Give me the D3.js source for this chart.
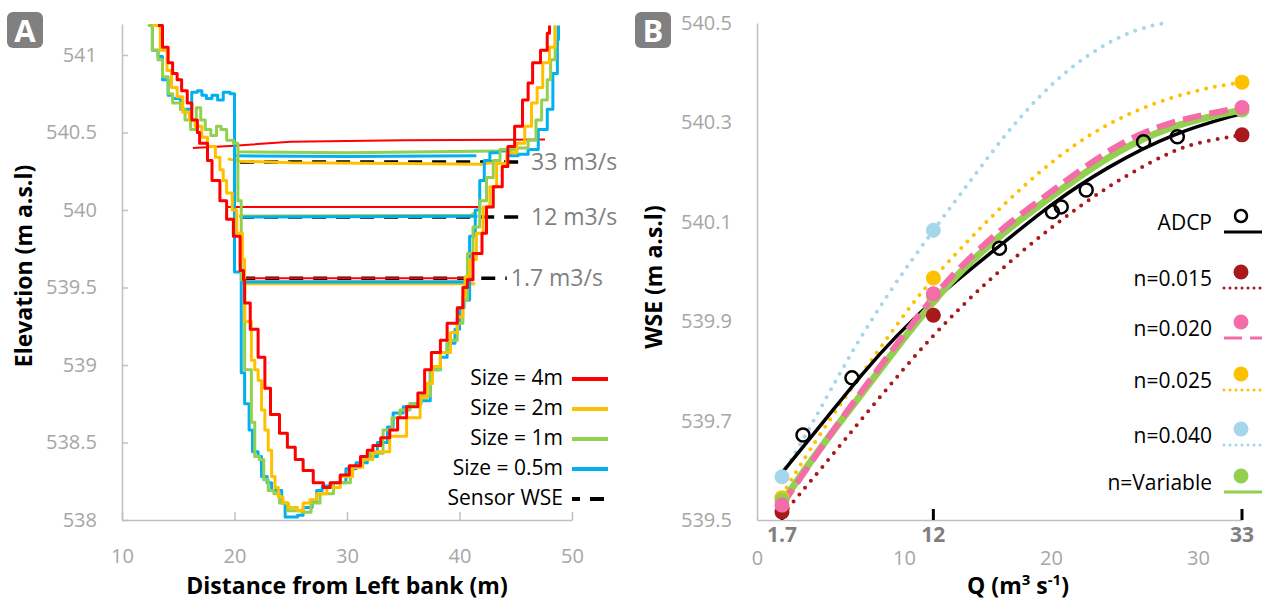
<!DOCTYPE html>
<html>
<head>
<meta charset="utf-8">
<script src="https://cdn.jsdelivr.net/npm/d3@7"></script>
<style>
  html, body { margin: 0; padding: 0; background: #fff; }
  svg { display: block; font-family: "Open Sans", "Noto Sans", sans-serif; }
</style>
</head>
<body>
<svg id="chart" width="1262" height="600"></svg>
<script>
// ---------- Panel A: channel cross-section by DEM cell size ----------
// [distance from left bank (m), elevation (m a.s.l)]
const profile4m = [
  [13.2,541.19],[13.6,541.05],[14.1,540.95],[14.5,540.88],[14.9,540.84],[15.3,540.77],[15.8,540.69],
  [16.2,540.58],[16.7,540.50],[16.9,540.43],[17.6,540.32],[18.0,540.19],[18.7,540.06],[19.3,539.94],
  [19.9,539.83],[20.5,539.61],[20.8,539.55],[20.9,539.40],[21.4,539.23],[22.1,539.05],[22.7,538.85],
  [23.2,538.68],[24.0,538.56],[24.7,538.47],[25.4,538.39],[26.1,538.32],[27.0,538.24],[27.9,538.21],
  [28.5,538.24],[29.4,538.29],[30.2,538.35],[31.2,538.41],[31.8,538.45],[32.3,538.48],[33.0,538.53],
  [33.8,538.58],[34.5,538.66],[35.3,538.73],[36.3,538.82],[36.9,538.97],[37.5,539.08],[38.3,539.16],
  [38.9,539.27],[39.8,539.37],[40.3,539.50],[40.7,539.55],[41.2,539.72],[42.0,539.85],[42.4,540.02],
  [43.0,540.15],[43.8,540.28],[44.3,540.41],[44.9,540.54],[45.6,540.71],[46.1,540.82],[46.5,540.95],
  [47.2,541.03],[47.8,541.14],[48.0,541.19]
];
const profile2m = [
  [12.7,541.19],[13.4,541.03],[14.0,540.90],[14.4,540.79],[14.9,540.73],[15.4,540.63],[16.0,540.58],
  [16.5,540.54],[17.1,540.47],[17.6,540.41],[18.3,540.34],[18.7,540.26],[19.0,540.19],[19.3,540.11],
  [19.8,540.00],[20.2,539.85],[20.7,539.68],[20.9,539.28],[21.5,539.03],[21.8,538.97],[22.1,538.90],
  [22.4,538.71],[22.7,538.58],[23.0,538.45],[23.3,538.28],[23.6,538.21],[23.9,538.15],[24.3,538.11],
  [24.8,538.08],[25.6,538.06],[26.1,538.11],[26.7,538.13],[27.3,538.17],[28.2,538.21],[29.4,538.28],
  [30.5,538.34],[31.4,538.39],[32.3,538.44],[33.8,538.54],[35.3,538.66],[36.5,538.79],[37.1,538.88],
  [37.6,538.99],[38.3,539.08],[39.2,539.21],[39.8,539.31],[40.3,539.44],[40.5,539.57],[40.9,539.68],
  [41.5,539.85],[42.1,540.02],[42.7,540.15],[43.3,540.30],[44.2,540.37],[45.1,540.43],[45.8,540.54],
  [46.4,540.69],[46.9,540.79],[47.4,540.95],[48.0,541.05],[48.5,541.19]
];
const profile1m = [
  [12.3,541.19],[12.7,541.03],[13.2,540.97],[13.6,540.86],[14.1,540.75],[14.5,540.69],[15.2,540.65],
  [15.6,540.58],[16.1,540.52],[16.6,540.66],[17.0,540.58],[17.4,540.52],[17.9,540.48],[18.4,540.54],
  [18.8,540.52],[19.3,540.45],[19.9,540.43],[20.3,540.06],[20.6,539.55],[20.9,538.97],[21.5,538.63],
  [21.8,538.41],[22.2,538.39],[22.6,538.26],[23.0,538.19],[23.5,538.17],[24.0,538.11],[24.7,538.06],
  [26.0,538.05],[26.8,538.11],[27.6,538.17],[28.8,538.24],[30.3,538.34],[31.2,538.39],[32.0,538.43],
  [33.2,538.58],[34.0,538.66],[34.7,538.71],[35.6,538.75],[36.6,538.80],[37.4,538.97],[38.3,539.08],
  [38.9,539.16],[39.8,539.27],[40.3,539.42],[40.7,539.72],[41.2,539.89],[41.8,540.06],[42.4,540.21],
  [43.0,540.32],[43.6,540.39],[45.1,540.40],[46.1,540.45],[46.8,540.58],[47.3,540.71],[47.8,540.84],
  [48.1,540.97],[48.5,541.19]
];
const profile05m = [
  [12.4,541.19],[12.7,541.03],[13.2,540.99],[13.6,540.84],[14.1,540.74],[14.5,540.72],[15.2,540.65],
  [16.0,540.65],[16.2,540.76],[16.7,540.77],[17.1,540.74],[17.5,540.72],[18.0,540.74],[18.5,540.71],
  [19.0,540.76],[19.6,540.75],[20.0,539.60],[20.6,538.95],[20.9,538.75],[21.3,538.58],[21.6,538.44],
  [22.1,538.41],[22.4,538.28],[22.9,538.24],[23.3,538.19],[24.2,538.11],[24.5,538.02],[25.6,538.03],
  [26.1,538.08],[26.9,538.12],[27.3,538.19],[27.8,538.22],[28.7,538.24],[29.9,538.33],[30.8,538.37],
  [31.8,538.41],[32.7,538.50],[33.6,538.60],[34.1,538.69],[35.0,538.73],[35.6,538.75],[36.5,538.77],
  [37.4,538.97],[38.3,539.05],[38.9,539.14],[39.6,539.23],[40.0,539.37],[40.4,539.42],[40.9,539.83],
  [41.4,540.00],[41.8,540.19],[42.2,540.32],[42.7,540.37],[43.5,540.38],[44.5,540.35],[45.2,540.36],
  [46.1,540.39],[47.0,540.52],[47.8,540.65],[48.3,540.88],[48.7,541.10],[48.8,541.19]
];

// modelled water surface for each flow (33, 12, 1.7 m3/s)
const wse4m = [
  [[16.3,540.40],[20,540.415],[25,540.44],[35,540.45],[47.6,540.455]],
  [[19.3,540.02],[41.9,540.02]],
  [[20.6,539.56],[40.6,539.56]]
];
const wse2m = [
  [[19.4,540.33],[20.5,540.315],[25,540.305],[35,540.30],[42,540.295],[43.2,540.31]],
  [[20.4,539.96],[41.0,539.965],[41.4,539.985]],
  [[20.8,539.525],[41.4,539.525]]
];
const wse1m = [
  [[20.4,540.375],[30,540.37],[43.4,540.38]],
  [[20.6,539.96],[41.5,539.965]],
  [[20.5,539.537],[40.5,539.537]]
];
const wse05m = [
  [[20.0,540.35],[30,540.345],[41.5,540.35]],
  [[20.5,539.955],[41.6,539.96]],
  [[20.6,539.535],[40.6,539.535]]
];
const sensorWSE = [
  [[20.5,540.31],[46.0,540.31]],
  [[20.5,539.955],[46.0,539.955]],
  [[20.6,539.56],[44.2,539.56]]
];
const flowLabels = ["33 m3/s", "12 m3/s", "1.7 m3/s"];
const sizeLabels = ["Size = 4m", "Size = 2m", "Size = 1m", "Size = 0.5m", "Sensor WSE"];
const elevTicks = [538, 538.5, 539, 539.5, 540, 540.5, 541];
const distTicks = [10, 20, 30, 40, 50];

// ---------- Panel B: stage-discharge ----------
const adcpQ   = [3.13, 6.46, 16.5, 20.1, 20.7, 22.4, 26.3, 28.6];
const adcpWSE = [539.671, 539.786, 540.047, 540.120, 540.130, 540.164, 540.261, 540.271];
const adcpFit = [[1.7,539.595],[5,539.715],[7.2,539.796],[9.5,539.872],[12.5,539.957],[17,540.063],
                 [20.1,540.138],[23.8,540.21],[28.3,540.279],[33,540.318]];
const fit015 = [[1.7,539.51],[4,539.59],[8,539.735],[12,539.875],[16,539.99],[20,540.09],
                [24,540.175],[28,540.24],[30,540.26],[33,540.275]];
const fit020 = [[1.7,539.53],[4,539.63],[6.3,539.727],[9.7,539.862],[12,539.95],[13.8,540.009],
                [16.5,540.083],[19.25,540.144],[22,540.204],[24.7,540.259],[27.9,540.30],[31.3,540.321],[33,540.33]];
const fit025 = [[1.7,539.55],[4.1,539.667],[8.4,539.848],[10.6,539.937],[12.45,540.003],[17,540.144],
                [21.5,540.259],[26,540.331],[30.6,540.371],[33,540.38]];
const fit040 = [[1.7,539.59],[3.8,539.695],[6.1,539.822],[9.05,539.963],[12,540.083],[14.7,540.19],
                [17,540.28],[19.25,540.355],[21.5,540.415],[23.8,540.46],[26,540.49],[28.1,540.502]];
const fitVar = [[1.7,539.535],[4,539.633],[6.3,539.722],[9.7,539.855],[12,539.94],[13.8,540.0],
                [16.5,540.072],[19.25,540.135],[22,540.193],[24.7,540.245],[27.9,540.29],[31.3,540.315],[33,540.325]];
const simQ   = [1.7, 12, 33];
const sim015 = [539.516, 539.912, 540.275];
const sim020 = [539.53, 539.955, 540.33];
const sim025 = [539.545, 539.987, 540.381];
const sim040 = [539.587, 540.083];
const simVar = [539.54, 539.95, 540.325];
const nLabels = ["ADCP", "n=0.015", "n=0.020", "n=0.025", "n=0.040", "n=Variable"];
const wseTicks = [539.5, 539.7, 539.9, 540.1, 540.3, 540.5];
const qTicks = [0, 10, 20, 30];
const qMarks = [1.7, 12, 33];

// ---------- drawing ----------
const svg = d3.select("#chart");
const AXIS = "#bfbfbf", TICKTXT = "#a6a6a6";
const C = { red: "#ff0000", yellow: "#ffc000", green: "#92d050", blue: "#00b0f0",
            dred: "#a8191c", pink: "#f46ca8", lblue: "#a5d6ea" };

function styleAxis(g) {
  g.attr("font-family", null).attr("font-size", null);
  g.select(".domain").attr("stroke", AXIS).attr("stroke-width", 1.5);
  g.selectAll(".tick line").attr("stroke", AXIS).attr("stroke-width", 1.5);
  g.selectAll(".tick text").attr("fill", TICKTXT).attr("font-size", 20);
}

function badge(x, y, letter) {
  svg.append("rect").attr("x", x).attr("y", y).attr("width", 36).attr("height", 36)
    .attr("rx", 6).attr("fill", "#808080");
  svg.append("text").attr("x", x + 18).attr("y", y + 30).attr("text-anchor", "middle")
    .attr("font-size", 31).attr("font-weight", 700).attr("fill", "#fff").text(letter);
}

// ----- Panel A -----
const xA = d3.scaleLinear().domain([10, 50]).range([122, 572]);
const yA = d3.scaleLinear().domain([538, 541.2]).range([520, 24]);

svg.append("g").attr("transform", "translate(0,520)")
  .call(d3.axisBottom(xA).tickValues(distTicks).tickSizeInner(-8).tickSizeOuter(0)
        .tickPadding(29).tickFormat(d3.format("d")))
  .call(styleAxis);
svg.append("g").attr("transform", "translate(122,0)")
  .call(d3.axisLeft(yA).tickValues(elevTicks).tickSizeInner(-6).tickSizeOuter(0)
        .tickPadding(25).tickFormat(d => String(d)))
  .call(styleAxis);

const lineA = d3.line().x(d => xA(d[0])).y(d => yA(d[1]));
const stepA = d3.line().x(d => xA(d[0])).y(d => yA(d[1])).curve(d3.curveStepAfter);

// sensor water levels (dashed) under the modelled surfaces
sensorWSE.forEach(s => {
  svg.append("path").attr("d", lineA(s)).attr("fill", "none").attr("stroke", "#000")
    .attr("stroke-width", 3.5).attr("stroke-dasharray", "14,10");
});
const wseSets = [
  { data: wse4m, color: C.red, w: 2 },
  { data: wse2m, color: C.yellow, w: 3 },
  { data: wse1m, color: C.green, w: 3 },
  { data: wse05m, color: C.blue, w: 3 }
];
wseSets.forEach(set => set.data.forEach(seg => {
  svg.append("path").attr("d", lineA(seg)).attr("fill", "none").attr("stroke", set.color)
    .attr("stroke-width", set.w);
}));
flowLabels.forEach((lab, i) => {
  const end = sensorWSE[i][sensorWSE[i].length - 1];
  svg.append("text").attr("x", xA(end[0]) + 4).attr("y", yA(end[1]) + 8)
    .attr("font-size", 23).attr("fill", "#7f7f7f").text(lab);
});

const profiles = [
  { data: profile05m, color: C.blue },
  { data: profile1m, color: C.green },
  { data: profile2m, color: C.yellow },
  { data: profile4m, color: C.red }
];
profiles.forEach(p => {
  svg.append("path").attr("d", stepA(p.data)).attr("fill", "none").attr("stroke", p.color)
    .attr("stroke-width", 3).attr("stroke-linejoin", "round");
});

// legend A
const legA = [C.red, C.yellow, C.green, C.blue, "#000"];
sizeLabels.forEach((lab, i) => {
  const y = 377 + i * 30;
  svg.append("text").attr("x", 563).attr("y", y + 8).attr("text-anchor", "end")
    .attr("font-size", 21).attr("fill", "#000").text(lab);
  const ln = svg.append("line").attr("x1", 572).attr("x2", 608).attr("y1", y + 2).attr("y2", y + 2)
    .attr("stroke", legA[i]).attr("stroke-width", 4);
  if (i === 4) ln.attr("stroke-dasharray", "14,10").attr("stroke-dashoffset", 6);
});

svg.append("text").attr("x", 347).attr("y", 594).attr("text-anchor", "middle")
  .attr("font-size", 23).attr("font-weight", 700).attr("fill", "#000")
  .text("Distance from Left bank (m)");
svg.append("text").attr("transform", "translate(32,266) rotate(-90)").attr("text-anchor", "middle")
  .attr("font-size", 23).attr("font-weight", 700).attr("fill", "#000")
  .text("Elevation (m a.s.l)");
badge(7, 12, "A");

// ----- Panel B -----
const xB = d3.scaleLinear().domain([0, 33]).range([757, 1242]);
const yB = d3.scaleLinear().domain([539.5, 540.5]).range([520, 23]);

svg.append("g").attr("transform", "translate(0,520)")
  .call(d3.axisBottom(xB).tickValues(qTicks).tickSize(0).tickPadding(31).tickFormat(d3.format("d")))
  .call(styleAxis);
svg.append("g").attr("transform", "translate(757,0)")
  .call(d3.axisLeft(yB).tickValues(wseTicks).tickSize(0).tickPadding(25).tickFormat(d3.format(".1f")))
  .call(styleAxis);

qMarks.forEach(q => {
  svg.append("line").attr("x1", xB(q)).attr("x2", xB(q)).attr("y1", 509).attr("y2", 520)
    .attr("stroke", "#000").attr("stroke-width", 3);
  svg.append("text").attr("x", xB(q)).attr("y", 542).attr("text-anchor", "middle")
    .attr("font-size", 21).attr("font-weight", 700).attr("fill", "#7f7f7f").text(String(q));
});

const curveB = d3.line().x(d => xB(d[0])).y(d => yB(d[1])).curve(d3.curveBasis);
const dotted = (sel, c) => sel.attr("stroke", c).attr("stroke-width", 4)
  .attr("stroke-linecap", "round").attr("stroke-dasharray", "0,9");

dotted(svg.append("path").attr("d", curveB(fit040)).attr("fill", "none"), C.lblue);
dotted(svg.append("path").attr("d", curveB(fit025)).attr("fill", "none"), C.yellow);
dotted(svg.append("path").attr("d", curveB(fit015)).attr("fill", "none"), C.dred);
svg.append("path").attr("d", curveB(adcpFit)).attr("fill", "none")
  .attr("stroke", "#000").attr("stroke-width", 3.5);
svg.append("path").attr("d", curveB(fitVar)).attr("fill", "none")
  .attr("stroke", C.green).attr("stroke-width", 7);
svg.append("path").attr("d", curveB(fit020)).attr("fill", "none")
  .attr("stroke", C.pink).attr("stroke-width", 6).attr("stroke-dasharray", "19,8");

svg.selectAll(null).data(adcpQ).enter().append("circle")
  .attr("cx", d => xB(d)).attr("cy", (d, i) => yB(adcpWSE[i])).attr("r", 6.5)
  .attr("fill", "none").attr("stroke", "#000").attr("stroke-width", 2.5);

const simSets = [
  { v: sim040, c: C.lblue }, { v: sim025, c: C.yellow }, { v: sim015, c: C.dred },
  { v: simVar, c: C.green }, { v: sim020, c: C.pink }
];
simSets.forEach(s => {
  svg.selectAll(null).data(s.v).enter().append("circle")
    .attr("cx", (d, i) => xB(simQ[i])).attr("cy", d => yB(d)).attr("r", 7.5).attr("fill", s.c);
});

// legend B
const legB = [
  { c: "#000", kind: "open" }, { c: C.dred, kind: "dot" }, { c: C.pink, kind: "dash" },
  { c: C.yellow, kind: "dot" }, { c: C.lblue, kind: "dot" }, { c: C.green, kind: "solid" }
];
const legBy = [222, 278, 328, 380, 435, 482];
nLabels.forEach((lab, i) => {
  const y = legBy[i];
  svg.append("text").attr("x", 1212).attr("y", y + 8).attr("text-anchor", "end")
    .attr("font-size", 21).attr("fill", "#000").text(lab);
  const m = svg.append("circle").attr("cx", 1241).attr("cy", y - 6).attr("r", 7.5);
  if (legB[i].kind === "open") m.attr("r", 6).attr("fill", "none").attr("stroke", "#000").attr("stroke-width", 2.5);
  else m.attr("fill", legB[i].c);
  const ln = svg.append("line").attr("x1", 1224).attr("x2", 1262).attr("y1", y + 10).attr("y2", y + 10)
    .attr("stroke", legB[i].c).attr("stroke-width", 3);
  if (legB[i].kind === "dot") ln.attr("stroke-linecap", "round").attr("stroke-dasharray", "0,6");
  if (legB[i].kind === "dash") ln.attr("stroke-dasharray", "18,8");
});

const qTitle = svg.append("text").attr("x", 1018).attr("y", 594).attr("text-anchor", "middle")
  .attr("font-size", 23).attr("font-weight", 700).attr("fill", "#000");
qTitle.append("tspan").text("Q (m");
qTitle.append("tspan").attr("dy", -9).attr("font-size", 15).text("3");
qTitle.append("tspan").attr("dy", 9).text(" s");
qTitle.append("tspan").attr("dy", -9).attr("font-size", 15).text("-1");
qTitle.append("tspan").attr("dy", 9).text(")");

svg.append("text").attr("transform", "translate(662,277) rotate(-90)").attr("text-anchor", "middle")
  .attr("font-size", 23).attr("font-weight", 700).attr("fill", "#000")
  .text("WSE (m a.s.l)");
badge(635, 12, "B");
</script>
</body>
</html>
